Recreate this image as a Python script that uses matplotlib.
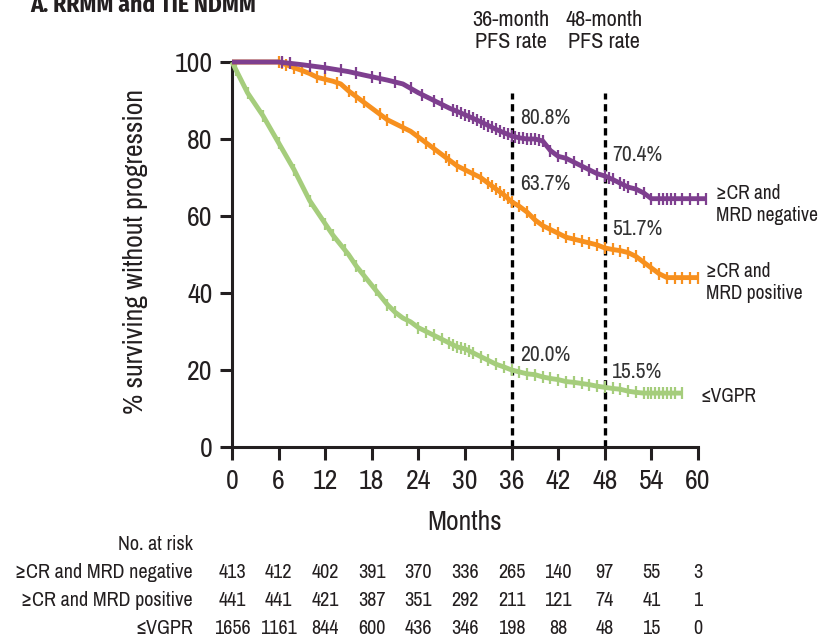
import numpy as np
import matplotlib
matplotlib.use('Agg')
import matplotlib.pyplot as plt
from matplotlib import font_manager
from matplotlib.transforms import blended_transform_factory

# ---------------- data ----------------
months_ticks = [0, 6, 12, 18, 24, 30, 36, 42, 48, 54, 60]
y_ticks = [0, 20, 40, 60, 80, 100]

neg_t = [0, 6, 9, 12, 15, 17, 20, 22, 24, 26, 28, 30, 32, 34, 36, 37, 38, 39, 40,
         41, 42, 43, 44, 45, 46, 47, 48, 49, 50, 51, 52, 53, 54, 55, 61]
neg_s = [100, 100, 99.3, 98.5, 97.5, 96.6, 95.3, 94.3, 92, 90, 88, 86.3, 84.5, 82.5,
         80.8, 80.3, 80, 80, 79.5, 77, 75.5, 75, 74, 73, 72, 71, 70.4, 69.5, 68.5,
         67.5, 67, 66, 64.5, 64.5, 64.5]
neg_cens = [6.5, 7.5, 10, 12, 14, 16, 18, 19, 21, 23, 24.5, 26, 27, 28.5, 29, 29.5,
            30, 30.5, 31, 31.5, 32, 32.5, 33, 33.5, 34, 34.5, 35, 35.5, 36, 36.5, 37,
            37.5, 38, 38.5, 39, 39.5, 40, 41, 42, 43, 44, 45, 46, 47, 48, 48.5, 49, 50,
            50.5, 51, 52, 53, 54, 55, 55.5, 56, 56.5, 57, 58, 59, 60, 61]

pos_t = [0, 6, 7, 8, 9, 10, 11, 12, 13, 14, 15, 16, 17, 18, 19, 20, 21, 22, 23, 24,
         25, 26, 27, 28, 29, 30, 31, 32, 33, 34, 35, 36, 37, 38, 39, 40, 41, 42, 43,
         44, 45, 46, 47, 48, 49, 50, 51, 52, 53, 54, 55, 56, 60]
pos_s = [100, 100, 99.3, 98.5, 97.8, 97, 96, 95.5, 95, 94.3, 92.5, 91, 89.5, 88, 86.5,
         85, 84, 83, 82, 80.5, 79, 77.5, 76, 74.5, 73, 72, 71, 70, 68.5, 67, 65.5,
         63.7, 62.5, 61, 59, 57.5, 56.5, 55.5, 54.5, 54, 53.5, 53, 52.5, 51.7, 51.3,
         51, 50.5, 49.5, 48, 46.5, 45, 44, 44]
pos_cens = [6, 6.5, 7, 8, 9, 11, 12, 13.5, 15, 16, 17, 19, 20, 22, 24, 25, 26, 27.5,
            28, 29, 30, 31, 32, 33, 33.5, 34, 34.5, 35, 35.5, 36, 37, 38, 39, 40, 41,
            42, 43, 44, 45, 46, 47, 48, 49, 50, 51, 52, 53, 54, 55, 56, 57, 58, 59, 60]

vg_t = [0, 1, 2, 3, 4, 5, 6, 7, 8, 9, 10, 11, 12, 13, 14, 15, 16, 17, 18, 19, 20,
        21, 22, 23, 24, 25, 26, 27, 28, 29, 30, 31, 32, 33, 34, 35, 36, 37, 38, 39,
        40, 41, 42, 43, 44, 45, 46, 47, 48, 49, 50, 51, 52, 53, 58]
vg_s = [100, 96, 92, 89, 86, 82.5, 79, 75.5, 72, 68, 64, 61, 58, 55, 52.5, 50, 47,
        44.5, 42, 39.5, 37, 35, 33.5, 32.5, 31, 30, 29, 28, 27, 26, 25.5, 24.5, 23.5,
        22.5, 21.5, 20.8, 20.0, 19.5, 19, 18.8, 18.2, 17.8, 17.5, 17, 16.8, 16.5, 16.2,
        15.8, 15.5, 15.2, 15, 14.5, 14.2, 14, 14]
vg_cens = [0.5, 2, 4, 6, 8, 10, 12, 13, 14.5, 16, 17, 18.5, 20, 21, 22.5, 24, 25,
           26, 27, 28, 28.5, 29, 29.5, 30, 30.5, 31, 32, 33, 34, 35, 36, 37, 38, 39,
           40, 41, 42, 43, 44, 45, 46, 47, 48, 49, 50, 51, 52, 53, 53.5, 54, 54.5, 55,
           55.5, 56, 56.5, 57, 58]

risk_labels = ['\u2265CR and MRD negative', '\u2265CR and MRD positive', '\u2264VGPR']
risk_neg = [413, 412, 402, 391, 370, 336, 265, 140, 97, 55, 3]
risk_pos = [441, 441, 421, 387, 351, 292, 211, 121, 74, 41, 1]
risk_vg = [1656, 1161, 844, 600, 436, 346, 198, 88, 48, 15, 0]

# ---------------- style ----------------
names = {f.name for f in font_manager.fontManager.ttflist}
MAIN = 'Archivo Narrow' if 'Archivo Narrow' in names else 'Roboto'
BOLD = 'Fira Sans Condensed' if 'Fira Sans Condensed' in names else MAIN
FONT = [MAIN, 'DejaVu Sans']
plt.rcParams['font.family'] = FONT
TXT = '#231f20'
C_NEG = '#7e3f8f'
C_POS = '#f7901e'
C_VG = '#a5cd7c'

fig = plt.figure(figsize=(8.22, 6.42), dpi=100)
ax = fig.add_axes([232/822, 1-447/642, 466/822, 385/642])

for t, s, cens, c in [(vg_t, vg_s, vg_cens, C_VG),
                      (pos_t, pos_s, pos_cens, C_POS),
                      (neg_t, neg_s, neg_cens, C_NEG)]:
    ax.plot(t, s, color=c, lw=3.5, clip_on=False, zorder=3, solid_capstyle='butt')
    ax.plot(cens, np.interp(cens, t, s), ls='none', marker='|', ms=9, mew=1.6,
            color=c, clip_on=False, zorder=3)

for xm in (36, 48):
    ax.plot([xm, xm], [0, 92], color='black', lw=2.4, ls=(0, (2.2, 1.4)), zorder=2,
            clip_on=False)

ax.set_xlim(0, 60)
ax.set_ylim(0, 100)
ax.set_xticks(months_ticks)
ax.set_yticks(y_ticks)
ax.tick_params(direction='out', length=9, width=2.2, labelsize=20, pad=5,
               colors=TXT)
ax.tick_params(axis='x', pad=7)
for sp in ('top', 'right'):
    ax.spines[sp].set_visible(False)
for sp in ('left', 'bottom'):
    ax.spines[sp].set_linewidth(2.2)
    ax.spines[sp].set_color(TXT)

# annotations
ann = [('80.8%', 37.1, 85.5), ('70.4%', 48.9, 75.8), ('63.7%', 37.1, 68.3),
       ('51.7%', 48.9, 56.6), ('20.0%', 37.1, 23.9), ('15.5%', 48.9, 19.5)]
for s, x, y in ann:
    ax.text(x, y, s, fontsize=15.5, color='#333333', ha='left', va='center')

ax.text(62.3, 62.9, '\u2265CR and\nMRD negative', fontsize=14, color=TXT,
        ha='left', va='center', linespacing=1.2)
ax.text(61.0, 42.6, '\u2265CR and\nMRD positive', fontsize=14, color=TXT,
        ha='left', va='center', linespacing=1.2)
ax.text(60.3, 13.2, '\u2264VGPR', fontsize=14, color=TXT, ha='left', va='center')

fig.text(511/822, 1-31/642, '36-month\nPFS rate', fontsize=16, color=TXT,
         ha='center', va='center', linespacing=1.15)
fig.text(604/822, 1-31/642, '48-month\nPFS rate', fontsize=16, color=TXT,
         ha='center', va='center', linespacing=1.15)

fig.text(30/822, 1-12/642, 'A. RRMM and TIE NDMM', fontsize=17, fontweight='bold',
         family=[BOLD, 'DejaVu Sans'], color=TXT, ha='left', va='baseline')

fig.text(135/822, 1-252/642, '% surviving without progression', fontsize=20,
         color=TXT, rotation=90, ha='center', va='center')
fig.text(465/822, 1-522/642, 'Months', fontsize=20, color=TXT, ha='center',
         va='center')

# risk table
tr = blended_transform_factory(ax.transData, fig.transFigure)
fig.text(193/822, 1-545/642, 'No. at risk', fontsize=14.5, color=TXT, ha='right',
         va='center')
for row, (lab, vals) in enumerate(zip(risk_labels, [risk_neg, risk_pos, risk_vg])):
    yy = 1 - (573 + 27.5*row)/642
    fig.text(193/822, yy, lab, fontsize=14.5, color=TXT, ha='right', va='center')
    for m, v in zip(months_ticks, vals):
        fig.text(m, yy, str(v), transform=tr, fontsize=14.5, color=TXT,
                 ha='center', va='center')

fig.savefig('out.png', dpi=100)
